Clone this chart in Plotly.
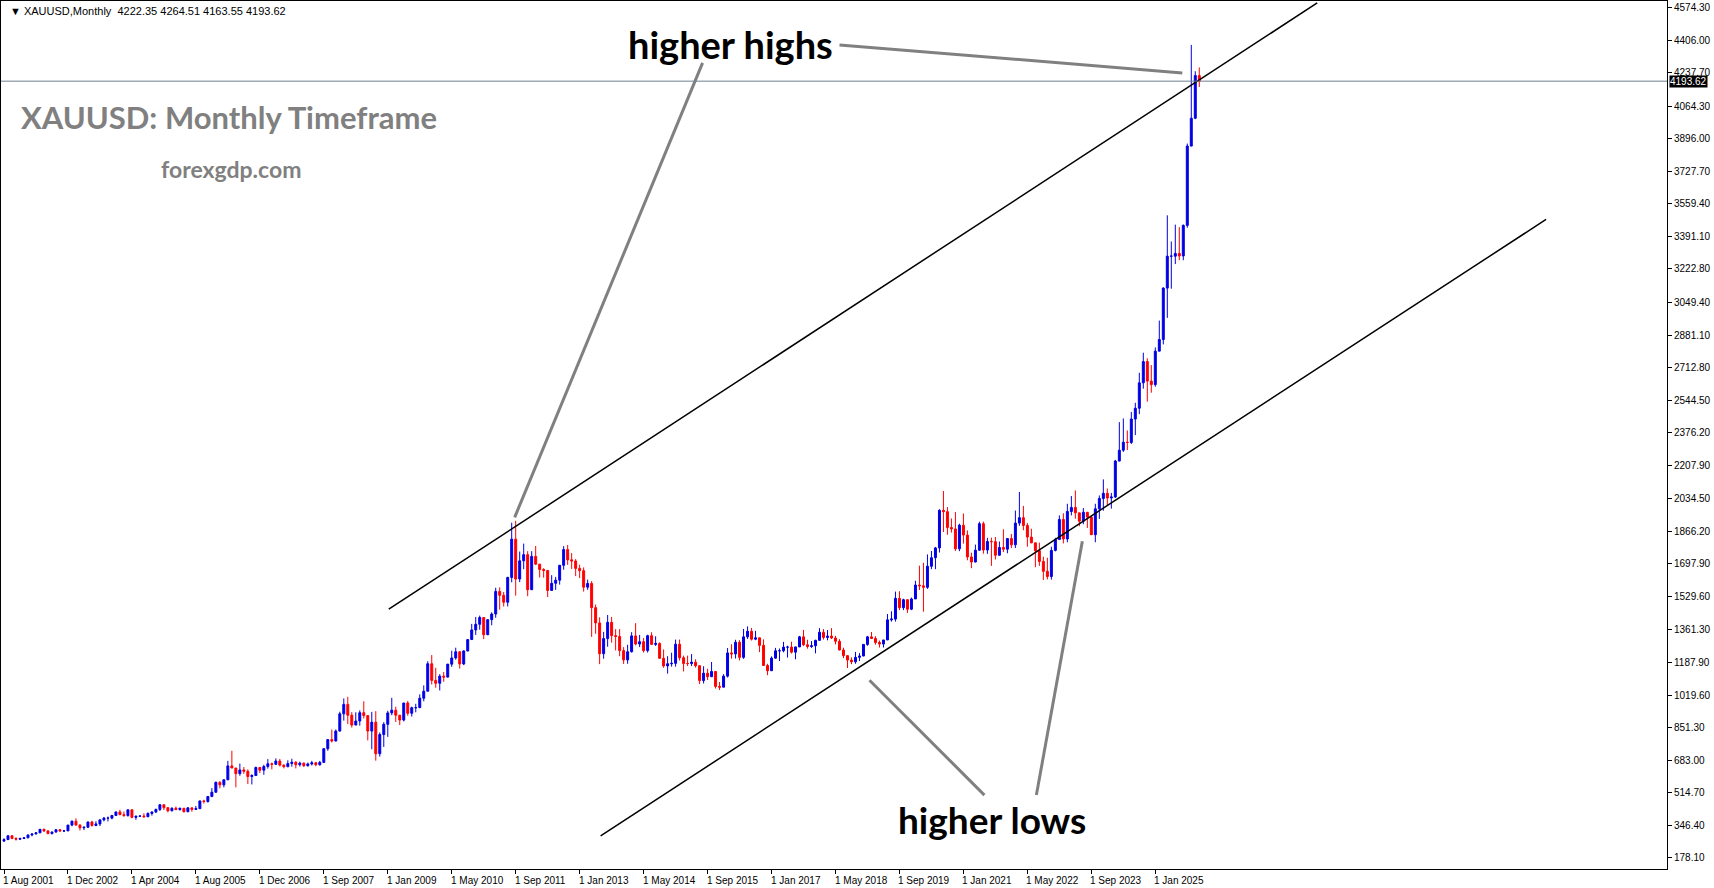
import plotly.graph_objects as go

# monthly bars, Aug 2001 .. Dec 2025 (feed has 7 extra bars in 2007)
closes = [
    273, 293, 279, 275, 279,
    282, 297, 302, 308, 326, 318, 304, 312, 324, 317, 318, 348,
    368, 348, 334, 337, 364, 346, 354, 375, 384, 384, 398, 416,
    402, 397, 427, 388, 394, 395, 391, 408, 416, 429, 453, 438,
    422, 435, 428, 435, 417, 437, 429, 433, 473, 470, 496, 518,
    569, 556, 582, 654, 643, 614, 633, 626, 599, 604, 646, 632,
    651, 665, 662, 679, 658, 650, 666, 673, 660, 668, 655, 664, 670, 660, 672,
    743, 790, 783, 834,
    923, 972, 916, 865, 886, 929, 914, 834, 880, 717, 816, 869,
    928, 942, 916, 891, 979, 926, 955, 955, 1004, 1040, 1182, 1096,
    1081, 1118, 1113, 1180, 1212, 1244, 1181, 1248, 1307, 1357, 1386, 1421,
    1332, 1410, 1439, 1556, 1536, 1500, 1628, 1826, 1620, 1714, 1746, 1565,
    1737, 1697, 1669, 1664, 1561, 1598, 1614, 1691, 1772, 1719, 1713, 1675,
    1663, 1578, 1597, 1472, 1393, 1234, 1312, 1396, 1327, 1323, 1250, 1202,
    1244, 1326, 1284, 1296, 1250, 1327, 1282, 1287, 1210, 1171, 1182, 1184,
    1283, 1213, 1183, 1183, 1190, 1172, 1095, 1133, 1115, 1142, 1065, 1061,
    1118, 1238, 1233, 1293, 1215, 1321, 1350, 1309, 1316, 1277, 1173, 1146,
    1211, 1249, 1249, 1268, 1268, 1242, 1269, 1321, 1280, 1271, 1275, 1303,
    1345, 1318, 1325, 1315, 1298, 1253, 1224, 1201, 1192, 1215, 1222, 1282,
    1321, 1313, 1292, 1284, 1305, 1409, 1413, 1520, 1472, 1513, 1464, 1517,
    1589, 1585, 1577, 1686, 1730, 1781, 1975, 1968, 1886, 1879, 1776, 1898,
    1847, 1734, 1708, 1769, 1906, 1770, 1814, 1813, 1743, 1783, 1774, 1829,
    1797, 1909, 1937, 1897, 1837, 1807, 1766, 1711, 1660, 1633, 1768, 1824,
    1928, 1827, 1969, 1990, 1962, 1919, 1965, 1940, 1849, 1983, 2036, 2063,
    2039, 2044, 2230, 2286, 2327, 2326, 2447, 2503, 2634, 2744, 2643, 2625,
    2798, 2858, 3124, 3289, 3289, 3303, 3290, 3448, 3858, 4002, 4222.35, 4193.62,
]
highs = [
    280, 294, 294, 285, 282,
    284, 298, 304, 311, 328, 330, 320, 315, 326, 327, 323, 349,
    372, 383, 352, 340, 366, 370, 368, 376, 390, 392, 399, 417,
    427, 418, 428, 429, 396, 398, 409, 414, 417, 433, 456, 456,
    430, 440, 444, 438, 436, 441, 430, 447, 474, 479, 497, 539,
    573, 575, 584, 680, 732, 640, 666, 648, 636, 611, 650, 648,
    660, 689, 671, 693, 690, 662, 683, 691, 678, 676, 672, 671, 680, 675, 680,
    744, 790, 842, 842,
    934, 1003, 1011, 932, 931, 941, 988, 917, 933, 937, 827, 880,
    939, 1006, 960, 913, 980, 990, 960, 975, 1024, 1070, 1195, 1227,
    1161, 1128, 1139, 1181, 1249, 1265, 1213, 1252, 1307, 1388, 1424, 1431,
    1423, 1411, 1448, 1575, 1577, 1553, 1632, 1911, 1921, 1762, 1803, 1764,
    1764, 1791, 1696, 1676, 1667, 1640, 1631, 1693, 1790, 1796, 1754, 1723,
    1694, 1680, 1617, 1609, 1488, 1422, 1347, 1434, 1424, 1361, 1361, 1268,
    1280, 1345, 1392, 1331, 1315, 1332, 1345, 1324, 1292, 1256, 1221, 1239,
    1307, 1307, 1224, 1224, 1232, 1205, 1172, 1169, 1156, 1191, 1142, 1088,
    1128, 1263, 1283, 1306, 1304, 1362, 1375, 1367, 1352, 1318, 1308, 1182,
    1220, 1264, 1261, 1295, 1275, 1296, 1270, 1326, 1357, 1306, 1299, 1306,
    1366, 1361, 1356, 1366, 1326, 1309, 1265, 1217, 1215, 1243, 1237, 1284,
    1326, 1346, 1324, 1302, 1305, 1439, 1453, 1555, 1557, 1518, 1516, 1524,
    1611, 1689, 1704, 1747, 1765, 1786, 1981, 2075, 1992, 1933, 1966, 1906,
    1959, 1871, 1756, 1798, 1916, 1917, 1833, 1834, 1837, 1814, 1877, 1832,
    1853, 1974, 2070, 1998, 1910, 1880, 1784, 1808, 1735, 1730, 1787, 1833,
    1949, 1960, 2009, 2049, 2078, 1960, 1987, 1949, 1947, 2009, 2052, 2135,
    2088, 2065, 2236, 2431, 2450, 2388, 2484, 2531, 2686, 2790, 2761, 2726,
    2817, 2956, 3128, 3500, 3365, 3452, 3439, 3453, 3871, 4381, 4245, 4264.51,
]
lows = [
    265, 272, 275, 268, 271,
    276, 281, 290, 301, 307, 312, 301, 300, 310, 315, 313, 318,
    342, 345, 320, 322, 333, 340, 342, 343, 367, 367, 378, 397,
    399, 392, 392, 383, 375, 391, 387, 390, 397, 410, 421, 426,
    414, 419, 426, 423, 414, 415, 417, 432, 432, 459, 464, 492,
    515, 538, 543, 584, 643, 543, 603, 613, 560, 558, 612, 617,
    608, 640, 636, 659, 651, 641, 647, 650, 641, 651, 648, 650, 656, 652, 655,
    672, 732, 775, 780,
    832, 888, 870, 852, 866, 862, 899, 786, 740, 681, 702, 752,
    804, 916, 881, 865, 884, 913, 909, 931, 988, 988, 1040, 1075,
    1058, 1044, 1089, 1111, 1166, 1203, 1157, 1175, 1246, 1317, 1331, 1358,
    1309, 1330, 1381, 1420, 1462, 1478, 1478, 1603, 1534, 1604, 1671, 1531,
    1563, 1692, 1628, 1627, 1527, 1563, 1564, 1591, 1668, 1693, 1672, 1635,
    1625, 1555, 1564, 1321, 1337, 1180, 1208, 1270, 1291, 1251, 1221, 1181,
    1182, 1240, 1277, 1268, 1240, 1240, 1281, 1274, 1208, 1161, 1131, 1167,
    1167, 1199, 1142, 1170, 1170, 1162, 1077, 1080, 1098, 1137, 1054, 1046,
    1062, 1111, 1208, 1209, 1199, 1207, 1310, 1302, 1304, 1242, 1171, 1123,
    1146, 1208, 1196, 1241, 1214, 1235, 1205, 1268, 1274, 1260, 1264, 1236,
    1302, 1307, 1303, 1310, 1282, 1251, 1211, 1160, 1180, 1182, 1196, 1221,
    1275, 1310, 1281, 1266, 1266, 1311, 1400, 1400, 1459, 1459, 1445, 1459,
    1517, 1563, 1451, 1569, 1671, 1671, 1757, 1863, 1849, 1860, 1765, 1764,
    1803, 1717, 1676, 1706, 1767, 1751, 1750, 1688, 1721, 1746, 1759, 1753,
    1780, 1780, 1895, 1872, 1787, 1805, 1681, 1688, 1615, 1618, 1617, 1763,
    1823, 1804, 1810, 1949, 1932, 1893, 1903, 1884, 1848, 1810, 1931, 1973,
    2002, 1984, 2039, 2228, 2277, 2287, 2318, 2364, 2472, 2604, 2537, 2583,
    2614, 2833, 2833, 2970, 3121, 3248, 3268, 3268, 3436, 3929, 3997, 4163.55,
]
first_open = 265
opens = [first_open] + closes[:-1]
bars = list(range(len(closes)))

date_labels = ["1 Aug 2001", "1 Dec 2002", "1 Apr 2004", "1 Aug 2005", "1 Dec 2006",
               "1 Sep 2007", "1 Jan 2009", "1 May 2010", "1 Sep 2011", "1 Jan 2013",
               "1 May 2014", "1 Sep 2015", "1 Jan 2017", "1 May 2018", "1 Sep 2019",
               "1 Jan 2021", "1 May 2022", "1 Sep 2023", "1 Jan 2025"]
date_bars = [16 * i for i in range(len(date_labels))]

price_ticks = [178.10, 346.40, 514.70, 683.00, 851.30, 1019.60, 1187.90, 1361.30,
               1529.60, 1697.90, 1866.20, 2034.50, 2207.90, 2376.20, 2544.50,
               2712.80, 2881.10, 3049.40, 3222.80, 3391.10, 3559.40, 3727.70,
               3896.00, 4064.30, 4237.70, 4406.00, 4574.30]
last_price = 4193.62

# channel lines and pointer lines, (bar, price) pairs
upper_channel = ([96.25, 328.5], [1464, 4598])
lower_channel = ([149.25, 385.75], [292, 3479])
pointers = [
    ([174.75, 127.75], [4288, 1939]),
    ([209, 294.75], [4381, 4236]),
    ([245.25, 216.5], [503, 1097]),
    ([258.25, 269.75], [503, 1815]),
]

fig = go.Figure()
fig.add_trace(go.Candlestick(
    x=bars, open=opens, high=highs, low=lows, close=closes,
    increasing=dict(line=dict(color="#0000e6", width=1), fillcolor="#0000e6"),
    decreasing=dict(line=dict(color="#ff0000", width=1), fillcolor="#ff0000"),
    whiskerwidth=0, showlegend=False, hoverinfo="skip"))

for xs, ys in [upper_channel, lower_channel]:
    fig.add_trace(go.Scatter(x=xs, y=ys, mode="lines", line=dict(color="black", width=1.5),
                             showlegend=False, hoverinfo="skip"))
for xs, ys in pointers:
    fig.add_trace(go.Scatter(x=xs, y=ys, mode="lines", line=dict(color="#808080", width=3),
                             showlegend=False, hoverinfo="skip"))

fig.add_hline(y=last_price, line=dict(color="#708090", width=1))

axis_font = dict(family="Liberation Sans", size=10, color="black")

# date labels start at their tick, like the terminal draws them
for b, lab in zip(date_bars, date_labels):
    fig.add_annotation(x=b, y=0, yref="paper", xanchor="left", yanchor="top",
                       text=lab, showarrow=False, font=axis_font, xshift=-3, yshift=-4)

fig.add_annotation(x=1, xref="paper", y=last_price, xanchor="left", yanchor="middle",
                   text="%.2f" % last_price, showarrow=False, bgcolor="black", borderpad=0,
                   font=dict(color="white", size=10, family="Liberation Sans"), xshift=2)
fig.add_annotation(x=0.004, xref="paper", y=1, yref="paper", xanchor="left", yanchor="top",
                   text="▼ XAUUSD,Monthly  4222.35 4264.51 4163.55 4193.62", showarrow=False,
                   font=dict(color="black", size=11, family="Liberation Sans"), yshift=-2)

fig.add_annotation(x=0.438, xref="paper", y=0.979, yref="paper", text="<b>higher highs</b>",
                   showarrow=False, font=dict(family="Lato", size=38, color="black"))
fig.add_annotation(x=0.595, xref="paper", y=0.029, yref="paper", text="<b>higher lows</b>",
                   showarrow=False, font=dict(family="Lato", size=37, color="black"))
fig.add_annotation(x=0.011, xref="paper", y=0.891, yref="paper", xanchor="left",
                   text="<b>XAUUSD: Monthly Timeframe</b>", showarrow=False,
                   font=dict(family="Lato", size=31, color="#808080"))
fig.add_annotation(x=0.095, xref="paper", y=0.825, yref="paper", xanchor="left",
                   text="<b>forexgdp.com</b>", showarrow=False,
                   font=dict(family="Lato", size=23, color="#808080"))

fig.update_layout(
    width=1714, height=888,
    margin=dict(l=1, r=47, t=1, b=19),
    paper_bgcolor="white", plot_bgcolor="white",
    xaxis=dict(range=[-0.75, 416], tickvals=date_bars, showticklabels=False,
               rangeslider=dict(visible=False), showgrid=False, zeroline=False,
               showline=True, linecolor="black", linewidth=1, mirror=True, automargin=False,
               ticks="outside", ticklen=4, tickcolor="black"),
    yaxis=dict(range=[121, 4608], side="right", tickvals=price_ticks,
               ticktext=["%.2f" % v for v in price_ticks], showgrid=False, zeroline=False,
               showline=True, linecolor="black", linewidth=1, mirror=True, automargin=False,
               ticks="outside", ticklen=4, tickcolor="black", tickfont=axis_font),
)

fig.write_html("out.html", config={"displayModeBar": False},
               post_script="document.body.style.margin='0';")
